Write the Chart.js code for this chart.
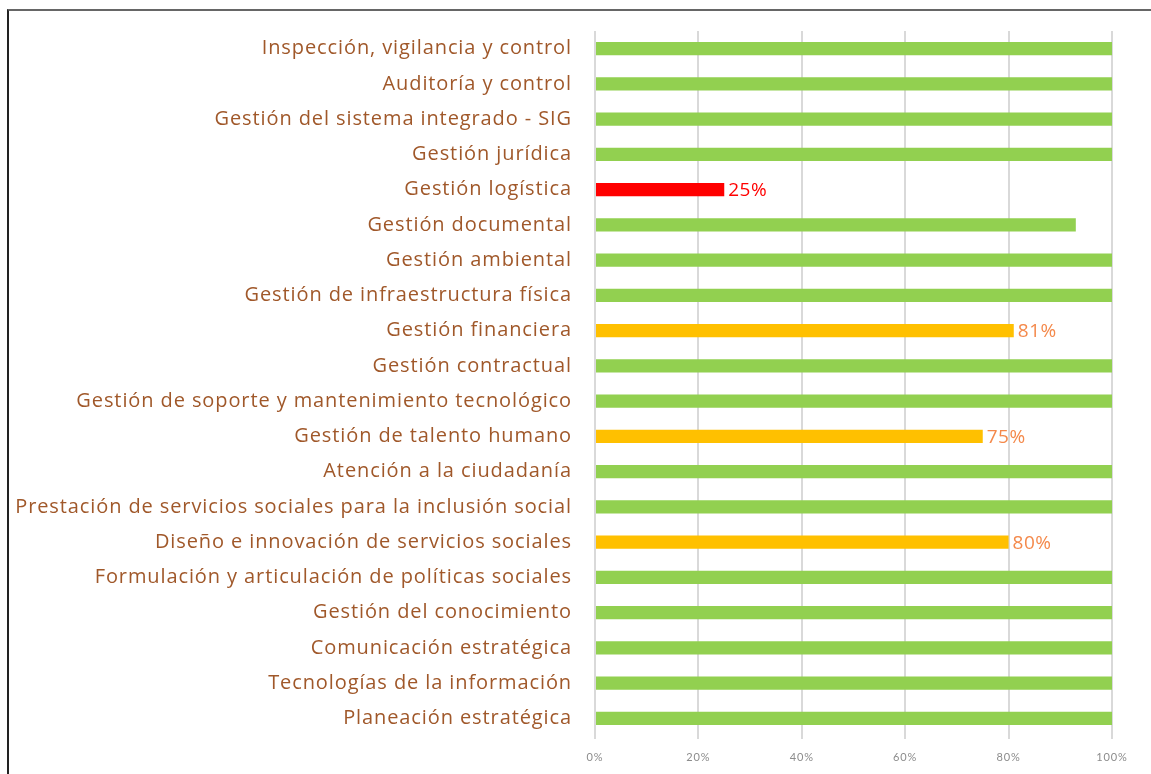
<!DOCTYPE html>
<html>
<head>
<meta charset="utf-8">
<script src="https://cdn.jsdelivr.net/npm/chart.js@4"></script>
<style>
  html, body { margin: 0; padding: 0; background: #fff; overflow: hidden; }
  #frame {
    position: absolute; left: 7px; top: 9px; width: 1200px; height: 800px;
    border-left: 2px solid #222; border-top: 2px solid #666;
  }
  #wrap { position: absolute; left: 0; top: 0; width: 1151px; height: 774px; }
</style>
</head>
<body>
<div id="frame"></div>
<div id="wrap"><canvas id="myChart"></canvas></div>
<script>
// procesos (de arriba hacia abajo)
var procesos = [
  "Inspección, vigilancia y control",
  "Auditoría y control",
  "Gestión del sistema integrado - SIG",
  "Gestión jurídica",
  "Gestión logística",
  "Gestión documental",
  "Gestión ambiental",
  "Gestión de infraestructura física",
  "Gestión financiera",
  "Gestión contractual",
  "Gestión de soporte y mantenimiento tecnológico",
  "Gestión de talento humano",
  "Atención a la ciudadanía",
  "Prestación de servicios sociales para la inclusión social",
  "Diseño e innovación de servicios sociales",
  "Formulación y articulación de políticas sociales",
  "Gestión del conocimiento",
  "Comunicación estratégica",
  "Tecnologías de la información",
  "Planeación estratégica"
];

// avance (%)
var avance = [100, 100, 100, 100, 25, 93, 100, 100, 81, 100, 100, 75, 100, 100, 80, 100, 100, 100, 100, 100];

// etiquetas visibles junto a la barra
var etiquetas = [null, null, null, null, "25%", null, null, null, "81%", null, null, "75%", null, null, "80%", null, null, null, null, null];

var ticksX = [0, 20, 40, 60, 80, 100];

// color segun avance
function colorBarra(v) {
  if (v < 50) return "#ff0000";
  if (v < 90) return "#ffc000";
  return "#92d050";
}

// a bit of letter spacing like the original
var espaciado = {
  id: "espaciado",
  beforeDraw: function (chart) { chart.ctx.letterSpacing = "0.9px"; }
};

// labels at bar end
var etiquetasPlugin = {
  id: "etiquetas",
  afterDatasetsDraw: function (chart) {
    var ctx = chart.ctx;
    var meta = chart.getDatasetMeta(0);
    ctx.save();
    ctx.font = "19px 'Open Sans'";
    ctx.letterSpacing = "0.5px";
    ctx.textBaseline = "middle";
    ctx.textAlign = "left";
    meta.data.forEach(function (bar, i) {
      if (!etiquetas[i]) return;
      ctx.fillStyle = avance[i] < 50 ? "#ff0000" : "#f4894b";
      ctx.fillText(etiquetas[i], bar.x + 4, bar.y + 1);
    });
    ctx.restore();
  }
};

new Chart(document.getElementById("myChart"), {
  type: "bar",
  data: {
    labels: procesos,
    datasets: [{
      data: avance,
      backgroundColor: avance.map(colorBarra),
      categoryPercentage: 1,
      barPercentage: 0.37
    }]
  },
  options: {
    indexAxis: "y",
    responsive: true,
    maintainAspectRatio: false,
    animation: false,
    layout: { padding: { top: 31, right: 39, bottom: 0, left: 0 } },
    plugins: { legend: { display: false }, tooltip: { enabled: false } },
    scales: {
      x: {
        min: 0,
        max: 100,
        afterBuildTicks: function (scale) {
          scale.ticks = ticksX.map(function (v) { return { value: v }; });
        },
        afterFit: function (scale) { scale.height = 38; },
        grid: { color: "#d9d9d9", lineWidth: 2, tickLength: 3, drawTicks: true },
        border: { display: false },
        ticks: {
          padding: 12,
          color: "#8c8c8c",
          font: { family: "Lato", size: 11 },
          callback: function (v) { return v + "%"; }
        }
      },
      y: {
        afterFit: function (scale) { scale.width = 595; },
        grid: { display: false },
        border: { display: false },
        ticks: {
          padding: 15,
          color: "#a0582a",
          font: { family: "Open Sans", size: 20 },
          autoSkip: false
        }
      }
    }
  },
  plugins: [espaciado, etiquetasPlugin]
});
</script>
</body>
</html>
